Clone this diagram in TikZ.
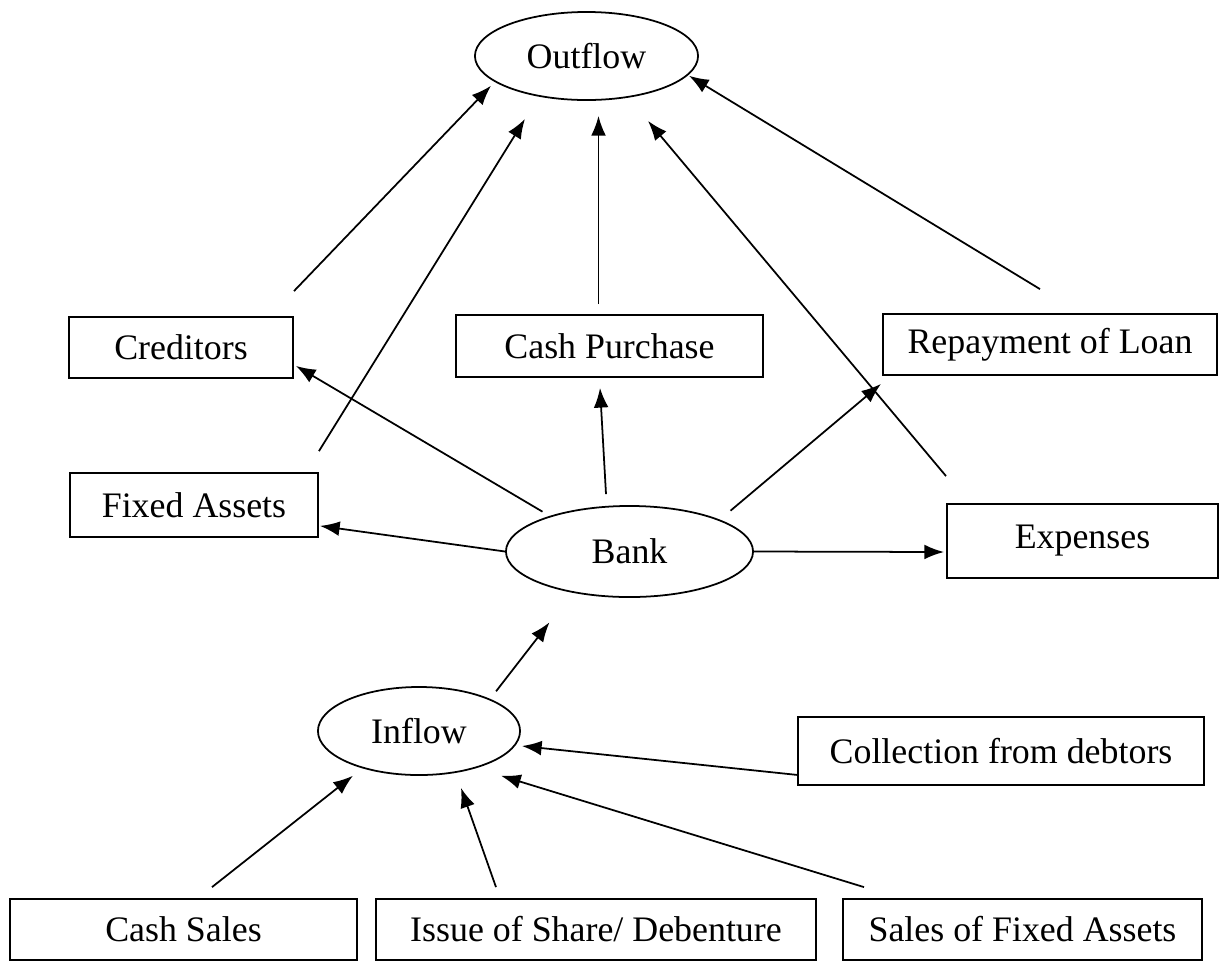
\documentclass[tikz,border=0pt]{standalone}
\usepackage{fontspec}
\setmainfont{Liberation Serif}
\usetikzlibrary{shapes.geometric,arrows.meta}

\tikzset{
  flowbox/.style={draw, rectangle, inner sep=0pt, line width=0.5pt, font=\fontsize{10.2}{12}\selectfont},
  flowoval/.style={draw, ellipse, inner sep=0pt, line width=0.5pt, font=\fontsize{10.2}{12}\selectfont},
  arr/.style={-{Latex[length=5.6pt,width=4.2pt]}, line width=0.5pt},
}

\begin{document}
\begin{tikzpicture}[x=0.01cm, y=-0.01cm]
  \useasboundingbox (0,0) rectangle (1221,963);

  % ovals
  \node[flowoval, minimum width=2.23cm, minimum height=0.88cm] (outflow) at (586.5,56) {Outflow};
  \node[flowoval, minimum width=2.47cm, minimum height=0.91cm] (bank) at (629.5,551.5) {Bank};
  \node[flowoval, minimum width=2.02cm, minimum height=0.88cm] (inflow) at (419,731) {Inflow};

  % outflow side
  \node[flowbox, minimum width=2.24cm, minimum height=0.61cm] (cred) at (181,347.5) {Creditors};
  \node[flowbox, minimum width=3.07cm, minimum height=0.62cm] (cashp) at (609.5,346) {Cash Purchase};
  \node[flowbox, minimum width=3.34cm, minimum height=0.61cm] (repay) at (1050,344.5) {Repayment of Loan};
  \node[flowbox, minimum width=2.48cm, minimum height=0.64cm] (fixed) at (194,505) {Fixed Assets};
  \node[flowbox, minimum width=2.71cm, minimum height=0.74cm] (expens) at (1082.5,541) {Expenses};

  % inflow side
  \node[flowbox, minimum width=4.06cm, minimum height=0.68cm] (collect) at (1001,751) {Collection from debtors};
  \node[flowbox, minimum width=3.47cm, minimum height=0.61cm] (cashs) at (183.5,929.5) {Cash Sales};
  \node[flowbox, minimum width=4.40cm, minimum height=0.61cm] (issue) at (596,929.5) {Issue of Share/ Debenture};
  \node[flowbox, minimum width=3.59cm, minimum height=0.61cm] (salesfa) at (1022.5,929.5) {Sales of Fixed Assets};

  % into outflow
  \draw[arr] ([shift={(0,-25)}]cred.north east) -- ([shift={(-16,-2)}]outflow.south west);
  \draw[arr] ([shift={(0,-21)}]fixed.north east) -- ([shift={(-61.5,18)}]outflow.south);
  \draw[arr] ([shift={(-11,-10)}]cashp.north) -- ([shift={(12,15)}]outflow.south);
  \draw[arr] ([shift={(0,-27)}]expens.north west) -- ([shift={(61.5,20)}]outflow.south);
  \draw[arr] ([shift={(-10,-24)}]repay.north) -- ([shift={(23,-12)}]outflow.south east);

  % out of bank
  \draw[arr] ([shift={(1,-7)}]bank.north west) -- ([shift={(2,-13)}]cred.south east);
  \draw[arr] ([shift={(-23.5,-11)}]bank.north) -- ([shift={(-9.5,10)}]cashp.south);
  \draw[arr] ([shift={(13,-8)}]bank.north east) -- ([shift={(-1,8)}]repay.south west);
  \draw[arr] (bank.west) -- ([shift={(1,-12)}]fixed.south east);
  \draw[arr] (bank.east) -- ([shift={(-2,11)}]expens.west);

  % into bank via inflow
  \draw[arr] ([shift={(5,-8)}]inflow.north east) -- ([shift={(8,38)}]bank.south west);
  \draw[arr] ([shift={(0,-11)}]collect.south west) -- ([shift={(1,15)}]inflow.east);
  \draw[arr] ([shift={(28.5,-11)}]cashs.north) -- ([shift={(6,13)}]inflow.south west);
  \draw[arr] ([shift={(121,-11)}]issue.north west) -- ([shift={(42,12)}]inflow.south);
  \draw[arr] ([shift={(22,-11)}]salesfa.north west) -- ([shift={(10,13)}]inflow.south east);
\end{tikzpicture}
\end{document}
